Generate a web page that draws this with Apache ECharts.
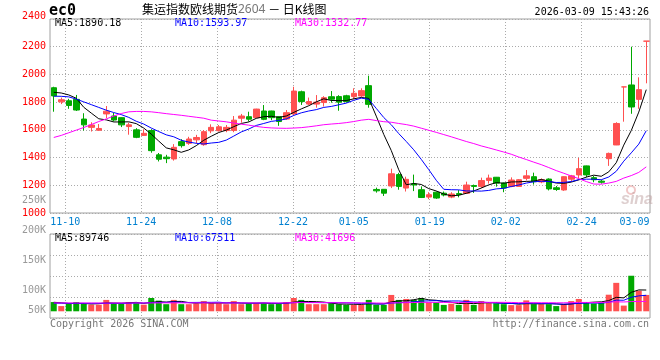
<!DOCTYPE html>
<html><head><meta charset="utf-8">
<script src="https://cdn.jsdelivr.net/npm/echarts@6/dist/echarts.min.js"></script>
<style>html,body{margin:0;padding:0;background:#fff}#c{width:660px;height:360px}</style>
</head><body><div id="c"></div>
<script>
// ---------- data ----------
const dates = ['11-06','11-07','11-10','11-11','11-12','11-13','11-14','11-17','11-18','11-19','11-20','11-21','11-24','11-25','11-26','11-27','11-28','12-01','12-02','12-03','12-04','12-05','12-08','12-09','12-10','12-11','12-12','12-15','12-16','12-17','12-18','12-19','12-22','12-23','12-24','12-25','12-26','12-29','12-30','12-31','01-05','01-06','01-07','01-08','01-09','01-12','01-13','01-14','01-15','01-16','01-19','01-20','01-21','01-22','01-23','01-26','01-27','01-28','01-29','01-30','02-02','02-03','02-04','02-05','02-06','02-09','02-10','02-11','02-12','02-13','02-24','02-25','02-26','02-27','03-02','03-03','03-04','03-05','03-06','03-09'];
const opens = [1904,1802,1810,1820,1678,1618,1597,1715,1700,1688,
  1624,1600,1560,1595,1420,1403,1390,1515,1503,1528,
  1493,1593,1594,1595,1596,1684,1695,1688,1736,1736,
  1695,1678,1715,1875,1786,1786,1797,1839,1840,1846,
  1840,1845,1919,1170,1171,1195,1277,1180,1210,1168,
  1115,1150,1143,1115,1140,1142,1198,1192,1235,1258,
  1216,1192,1192,1250,1262,1224,1245,1182,1166,1244,
  1275,1340,1255,1230,1392,1491,1910,1924,1820,2240];
const closes = [1845,1817,1776,1743,1636,1635,1610,1735,1671,1636,
  1636,1546,1575,1450,1388,1392,1474,1486,1534,1545,
  1587,1618,1622,1618,1670,1700,1677,1750,1676,1688,
  1660,1724,1880,1804,1804,1800,1832,1821,1800,1804,
  1864,1883,1784,1160,1143,1283,1192,1243,1202,1112,
  1132,1108,1130,1137,1133,1202,1192,1234,1252,1216,
  1180,1238,1240,1268,1226,1240,1174,1170,1262,1268,
  1320,1275,1240,1222,1430,1646,1910,1765,1890,2240];
const lows = [1731,1786,1752,1736,1595,1588,1596,1685,1660,1620,
  1565,1540,1556,1435,1372,1360,1378,1472,1492,1503,
  1485,1576,1588,1583,1583,1652,1660,1684,1670,1670,
  1629,1671,1707,1780,1779,1760,1768,1796,1738,1796,
  1820,1835,1760,1147,1123,1180,1168,1155,1158,1108,
  1100,1102,1120,1107,1113,1137,1145,1180,1212,1190,
  1150,1186,1190,1235,1205,1215,1163,1160,1160,1225,
  1248,1258,1222,1212,1340,1490,1659,1716,1752,1936];
const highs = [1911,1833,1824,1852,1720,1655,1642,1772,1722,1690,
  1652,1612,1604,1605,1433,1420,1497,1533,1550,1564,
  1598,1640,1635,1635,1700,1715,1731,1752,1779,1738,
  1700,1743,1911,1883,1833,1851,1843,1880,1850,1853,
  1900,1900,1991,1183,1173,1320,1290,1262,1277,1192,
  1150,1155,1155,1150,1165,1226,1205,1255,1277,1260,
  1220,1257,1245,1310,1291,1250,1250,1195,1265,1275,
  1398,1342,1268,1240,1436,1655,1910,2200,1979,2240];
const ma5 = [1871,1866,1852,1828,1763,1721,1680,1672,1657,1657,
  1658,1645,1613,1569,1519,1470,1456,1438,1455,1486,
  1525,1554,1581,1598,1623,1646,1657,1683,1695,1698,
  1690,1700,1726,1751,1774,1802,1824,1812,1811,1811,
  1824,1834,1827,1699,1567,1451,1312,1204,1213,1206,
  1176,1159,1137,1124,1128,1142,1159,1180,1203,1219,
  1215,1224,1225,1228,1230,1242,1230,1216,1214,1223,
  1239,1259,1273,1265,1297,1363,1490,1595,1728,1890.18];
const ma10 = [1843,1842,1838,1822,1802,1782,1762,1742,1725,1710,
  1690,1662,1642,1613,1588,1564,1550,1525,1512,1503,
  1498,1505,1510,1526,1555,1585,1606,1632,1646,1661,
  1668,1679,1704,1723,1736,1746,1762,1769,1781,1793,
  1813,1829,1820,1755,1689,1637,1573,1516,1456,1387,
  1313,1236,1171,1168,1167,1159,1159,1158,1163,1174,
  1178,1191,1202,1216,1225,1229,1227,1220,1221,1227,
  1241,1244,1244,1240,1260,1301,1374,1434,1497,1593.97];
const ma30 = [1545,1560,1579,1598,1617,1638,1660,1679,1700,1718,
  1730,1733,1733,1730,1724,1717,1711,1705,1698,1691,
  1684,1670,1664,1658,1649,1641,1634,1625,1618,1614,
  1612,1611,1613,1616,1622,1629,1637,1642,1646,1652,
  1660,1670,1676,1667,1659,1655,1646,1638,1627,1612,
  1597,1582,1566,1550,1533,1516,1501,1484,1470,1455,
  1440,1424,1404,1386,1367,1349,1328,1306,1287,1267,
  1248,1227,1209,1208,1216,1228,1252,1270,1293,1332.77];
// volumes in thousands (K)
const volumesK = [39,22,31,39,35,28,28,48,35,31,
  39,35,28,56,45,30,48,30,30,33,
  43,34,34,30,43,30,34,34,34,30,
  34,39,56,48,30,30,30,34,30,27,
  27,27,48,27,27,69,48,52,48,56,
  38,38,27,32,27,48,27,43,34,34,
  30,26,26,46,30,30,30,22,30,43,
  52,35,33,36,70,120,24,150,87,69];
const volMa5K = [38,36,33,33,33.2,31,32.2,35.6,34.8,34,
  36.2,37.6,33.6,37.8,40.6,38.8,41.4,41.8,36.6,34.2,
  36.8,34,34.8,34.8,36.8,34.2,34.2,34.2,35,32.4,
  33.2,34.2,38.6,41.4,41.4,40.6,38.8,34.4,30.8,30.2,
  29.6,29,31.8,31.2,31.2,39.6,43.8,44.6,48.8,54.6,
  48.4,46.4,41.4,38.2,32.4,34.4,32.2,35.4,35.8,37.2,
  33.6,33.4,30,32.4,31.6,31.6,32.4,31.6,28.4,31,
  35.4,36.4,38.6,39.8,45.2,58.8,56.6,80,90.2,89.746];
const volMa10K = [34,34,33.5,33.5,33.5,33.5,33.5,33.6,33.6,33.6,
  33.6,34.9,34.6,36.3,37.3,37.5,39.5,37.7,37.2,37.4,
  37.8,37.7,38.3,35.7,35.5,35.5,34.1,34.5,34.9,34.6,
  33.7,34.2,36.4,38.2,36.9,36.9,36.5,36.5,36.1,35.8,
  35.1,33.9,33.1,31,30.7,34.6,36.4,38.2,40,42.9,
  44,45.1,43,43.5,43.5,41.4,39.3,38.4,37,34.8,
  34,32.8,32.7,34.1,34.4,32.6,32.9,30.8,30.4,31.3,
  33.5,34.4,35.1,34.1,38.1,47.1,46.5,59.3,65,67.511];
const volMa30K = [35.4,35.3,35.2,35.2,35.1,35.0,35.0,34.9,34.9,35.0,
  35.1,35.2,35.2,35.3,35.4,35.5,35.5,35.6,35.5,35.4,
  35.4,35.3,35.3,35.2,35.2,35.3,35.2,35.2,35.2,35.2,
  35.0,35.6,36.4,36.7,36.6,36.6,36.7,36.2,36.1,35.9,
  35.5,35.3,35.9,35.0,34.4,35.7,35.7,36.4,37.0,37.8,
  37.6,37.7,37.5,37.6,37.0,37.6,37.4,37.7,37.7,37.8,
  37.7,37.3,36.3,36.2,36.2,36.2,36.2,35.8,35.8,36.3,
  37.2,37.4,36.9,37.2,38.7,40.0,39.3,41.0,41.5,41.696];
const xLabelDates = ['11-10','11-24','12-08','12-22','01-05','01-19','02-02','02-24','03-09'];
const xGridDates = ['11-10','11-24','12-08','12-22','01-05','01-19','02-02','02-24'];
const priceTicks = {min:1000, max:2400, step:200};
const volLabelTicksK = {min:0, max:250, step:50};
const legendPrice = ['MA5:1890.18','MA10:1593.97','MA30:1332.77'];
const legendVol = ['MA5:89746','MA10:67511','MA30:41696'];
const titleMain = '集运指数欧线期货';
const titleCode = '2604';
const titleTail = ' － 日K线图';
const stamp = '2026-03-09 15:43:26';

// ---------- styling ----------
const MONO = "DejaVu Sans Mono";
const UP = '#ff5050', DOWN = '#00a800';
const DOT = {type:[1,2], color:'#aaaaaa', width:1};
const candles = opens.map((o,i)=>[o, closes[i], lows[i], highs[i]]);
function isUp(i){
  if (closes[i] > opens[i]) return true;
  if (closes[i] < opens[i]) return false;
  return i === 0 ? true : closes[i] >= closes[i-1];
}
const lastX = xLabelDates[xLabelDates.length-1];

const chart = echarts.init(document.getElementById('c'), null, {renderer:'canvas'});
const lineS = (data, color, xi, yi) => ({type:'line', data, xAxisIndex:xi, yAxisIndex:yi, symbol:'none',
  silent:true, lineStyle:{color, width:1}, z:3});

chart.setOption({
  animation:false,
  backgroundColor:'#fff',
  grid:[
    {left:50, top:19, width:600, height:194, show:true, borderColor:'#a0a0a0', borderWidth:1},
    {left:50, top:234, width:600, height:84, show:true, borderColor:'#a0a0a0', borderWidth:1},
    {left:50, top:200, width:600, height:150, show:false}
  ],
  xAxis:[
    {gridIndex:0, type:'category', data:dates, boundaryGap:true, show:false},
    {gridIndex:0, type:'category', data:dates, boundaryGap:false, position:'bottom',
      axisLine:{show:false}, axisTick:{show:false},
      axisLabel:{interval:(i,v)=>xLabelDates.includes(v), color:'#0080d0', fontFamily:MONO, fontSize:10, margin:4,
        formatter:v=> v===lastX ? '{r|'+v+'}' : v,
        rich:{r:{padding:[0,31,0,0], color:'#0080d0', fontFamily:MONO, fontSize:10}}},
      splitLine:{show:true, interval:(i,v)=>xGridDates.includes(v), lineStyle:DOT}},
    {gridIndex:1, type:'category', data:dates, boundaryGap:true, show:false},
    {gridIndex:1, type:'category', data:dates, boundaryGap:false,
      axisLine:{show:false}, axisTick:{show:false}, axisLabel:{show:false},
      splitLine:{show:true, interval:(i,v)=>xGridDates.includes(v), lineStyle:DOT}},
    {gridIndex:2, type:'value', min:0, max:1, show:false}
  ],
  yAxis:[
    {gridIndex:0, type:'value', min:priceTicks.min, max:priceTicks.max, interval:priceTicks.step,
      axisLine:{show:false}, axisTick:{show:false},
      axisLabel:{color:'#f00', fontFamily:MONO, fontSize:10, margin:4,
        formatter:v=> v===priceTicks.max ? '{t|'+v+'}' : String(v),
        rich:{t:{padding:[0,0,6,0], color:'#f00', fontFamily:MONO, fontSize:10}}},
      splitLine:{show:true, lineStyle:DOT}},
    {gridIndex:1, type:'value', min:-28.3, max:326.1, show:false, splitLine:{show:false}},
    {gridIndex:1, type:'value', min:0, max:4, interval:1, axisLine:{show:false}, axisTick:{show:false},
      axisLabel:{show:false}, splitLine:{show:true, lineStyle:DOT}},
    {gridIndex:2, type:'value', min:volLabelTicksK.min, max:volLabelTicksK.max, interval:volLabelTicksK.step,
      axisLine:{show:false}, axisTick:{show:false}, splitLine:{show:false},
      axisLabel:{color:'#999', fontFamily:MONO, fontSize:10, margin:4,
        formatter:v=> v===0 ? '' : (v===50 ? '{u|50K}' : v+'K'),
        rich:{u:{padding:[0,0,20,0], color:'#999', fontFamily:MONO, fontSize:10}}}}
  ],
  series:[
    {type:'candlestick', xAxisIndex:0, yAxisIndex:0, data:candles, barWidth:6, silent:true,
      itemStyle:{color:UP, color0:DOWN, borderColor:UP, borderColor0:DOWN, borderColorDoji:UP, borderWidth:1}},
    lineS(ma5,'#000',0,0), lineS(ma10,'#0000ff',0,0), lineS(ma30,'#ff00ff',0,0),
    {type:'bar', xAxisIndex:2, yAxisIndex:1, barWidth:6, silent:true,
      data:volumesK.map((v,i)=>({value:v, itemStyle:{color:isUp(i)?UP:DOWN}}))},
    lineS(volMa5K,'#000',2,1), lineS(volMa10K,'#0000ff',2,1), lineS(volMa30K,'#ff00ff',2,1)
  ],
  graphic:[
    {type:'text', x:49, y:11.5, style:{text:'ec0', font:"bold 15px 'DejaVu Sans Mono'", fill:'#000', verticalAlign:'middle'}},
    {type:'text', x:142, y:9.5, style:{text:'{a|'+titleMain+'}{b|'+titleCode+'}{a|'+titleTail+'}', verticalAlign:'middle',
      rich:{a:{fontSize:12, fontFamily:'Noto Sans CJK SC', fill:'#000'}, b:{fontSize:12, fontFamily:'Noto Sans', fill:'#777'}}}},
    {type:'text', x:649, y:12.5, style:{text:stamp, font:"10px 'DejaVu Sans Mono'", fill:'#000', align:'right', verticalAlign:'middle'}},
    {type:'text', x:55, y:23.5, style:{text:legendPrice[0], font:"10px 'DejaVu Sans Mono'", fill:'#000', verticalAlign:'middle'}},
    {type:'text', x:175, y:23.5, style:{text:legendPrice[1], font:"10px 'DejaVu Sans Mono'", fill:'#0000ff', verticalAlign:'middle'}},
    {type:'text', x:295, y:23.5, style:{text:legendPrice[2], font:"10px 'DejaVu Sans Mono'", fill:'#ff00ff', verticalAlign:'middle'}},
    {type:'text', x:55, y:238.5, style:{text:legendVol[0], font:"10px 'DejaVu Sans Mono'", fill:'#000', verticalAlign:'middle'}},
    {type:'text', x:175, y:238.5, style:{text:legendVol[1], font:"10px 'DejaVu Sans Mono'", fill:'#0000ff', verticalAlign:'middle'}},
    {type:'text', x:295, y:238.5, style:{text:legendVol[2], font:"10px 'DejaVu Sans Mono'", fill:'#ff00ff', verticalAlign:'middle'}},
    {type:'text', x:50, y:324, style:{text:'Copyright 2026 SINA.COM', font:"10px 'DejaVu Sans Mono'", fill:'#777', verticalAlign:'middle'}},
    {type:'text', x:649, y:324, style:{text:'http://finance.sina.com.cn', font:"10px 'DejaVu Sans Mono'", fill:'#777', align:'right', verticalAlign:'middle'}},
    {type:'circle', shape:{cx:631, cy:190, r:4}, style:{fill:'none', stroke:'rgba(225,130,130,0.45)', lineWidth:2}},
    {type:'text', x:621, y:200, style:{text:'sina', font:"italic bold 16px 'Liberation Sans'", fill:'rgba(190,160,160,0.5)', verticalAlign:'middle'}}
  ]
});
</script></body></html>
